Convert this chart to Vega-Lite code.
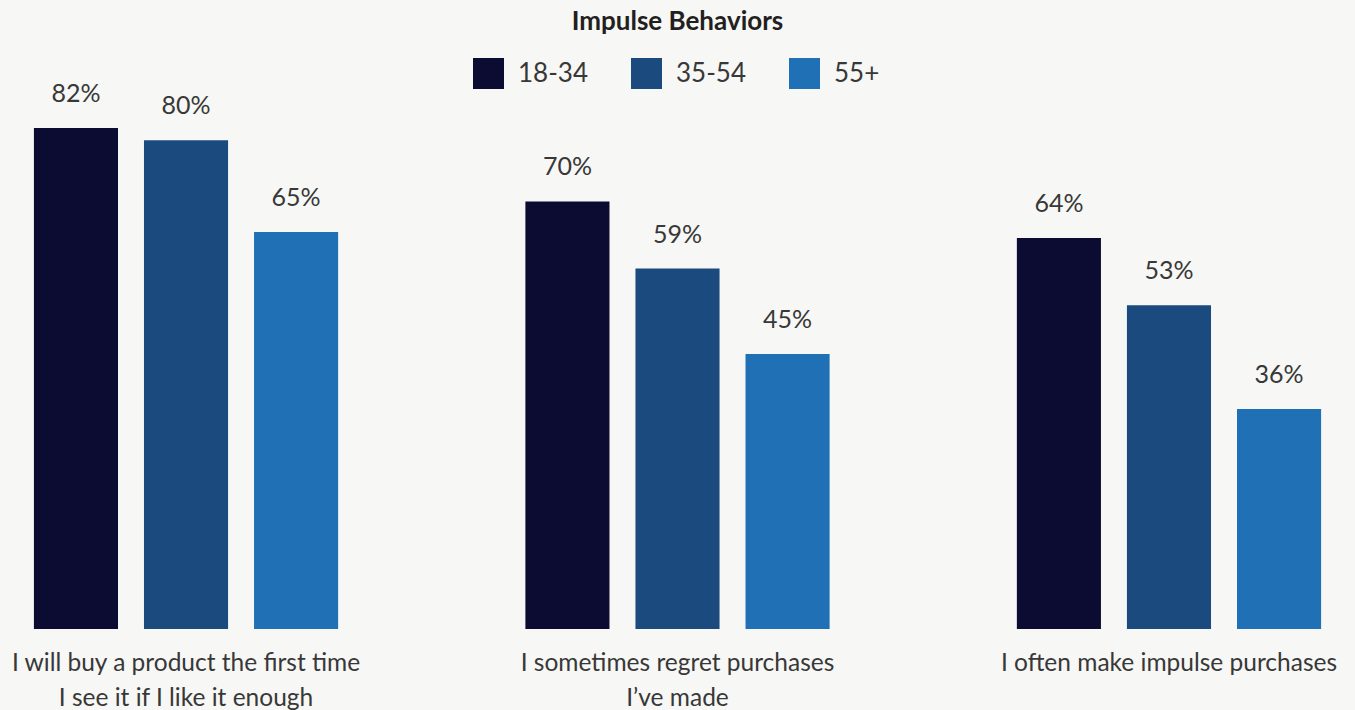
{
  "$schema": "https://vega.github.io/schema/vega-lite/v6.json",
  "autosize": {"type": "none"},
  "padding": {"left": 0, "top": 100, "right": 0, "bottom": 81},
  "width": 1355,
  "height": 529,
  "background": "#F7F7F5",
  "config": {"view": {"stroke": null}},
  "title": {
    "text": "Impulse Behaviors",
    "font": "Lato",
    "fontSize": 26,
    "fontWeight": "bold",
    "color": "#231F20",
    "anchor": "middle",
    "baseline": "alphabetic",
    "offset": 2
  },
  "data": {
    "values": [
      {"statement": "I will buy a product the first time|I see it if I like it enough", "age": "18-34", "pct": 0.82},
      {"statement": "I will buy a product the first time|I see it if I like it enough", "age": "35-54", "pct": 0.80},
      {"statement": "I will buy a product the first time|I see it if I like it enough", "age": "55+", "pct": 0.65},
      {"statement": "I sometimes regret purchases|I’ve made", "age": "18-34", "pct": 0.70},
      {"statement": "I sometimes regret purchases|I’ve made", "age": "35-54", "pct": 0.59},
      {"statement": "I sometimes regret purchases|I’ve made", "age": "55+", "pct": 0.45},
      {"statement": "I often make impulse purchases", "age": "18-34", "pct": 0.64},
      {"statement": "I often make impulse purchases", "age": "35-54", "pct": 0.53},
      {"statement": "I often make impulse purchases", "age": "55+", "pct": 0.36}
    ]
  },
  "encoding": {
    "x": {
      "field": "statement",
      "type": "nominal",
      "sort": null,
      "scale": {"paddingInner": 0.381, "paddingOuter": 0.069},
      "axis": {
        "title": null,
        "domain": false,
        "ticks": false,
        "grid": false,
        "labelAngle": 0,
        "labelLimit": 0,
        "labelFont": "Lato",
        "labelFontSize": 24.5,
        "labelColor": "#383838",
        "labelLineHeight": 35,
        "labelPadding": 22,
        "labelExpr": "split(datum.label, '|')"
      }
    },
    "xOffset": {
      "field": "age",
      "type": "nominal",
      "sort": ["18-34", "35-54", "55+"],
      "scale": {"paddingInner": 0.236, "paddingOuter": 0}
    },
    "y": {
      "field": "pct",
      "type": "quantitative",
      "scale": {"domain": [0, 0.866], "nice": false, "zero": true},
      "axis": null
    }
  },
  "layer": [
    {
      "mark": {"type": "bar"},
      "encoding": {
        "color": {
          "field": "age",
          "type": "nominal",
          "sort": ["18-34", "35-54", "55+"],
          "scale": {"domain": ["18-34", "35-54", "55+"], "range": ["#0C0C33", "#1B4B7E", "#1F70B4"]},
          "legend": {
            "title": null,
            "orient": "none",
            "direction": "horizontal",
            "legendX": 473,
            "legendY": -42,
            "symbolType": "square",
            "symbolSize": 961,
            "symbolStrokeWidth": 0,
            "symbolOpacity": 1,
            "labelFont": "Lato",
            "labelFontSize": 26,
            "labelColor": "#383838",
            "labelOffset": 14,
            "columnPadding": 43,
            "padding": 0
          }
        }
      }
    },
    {
      "mark": {"type": "text", "baseline": "alphabetic", "dy": -26, "font": "Lato", "fontSize": 25, "color": "#383838"},
      "encoding": {
        "text": {"field": "pct", "type": "quantitative", "format": ".0%"},
        "xOffset": {"field": "age", "type": "nominal", "sort": ["18-34", "35-54", "55+"]}
      }
    }
  ]
}
